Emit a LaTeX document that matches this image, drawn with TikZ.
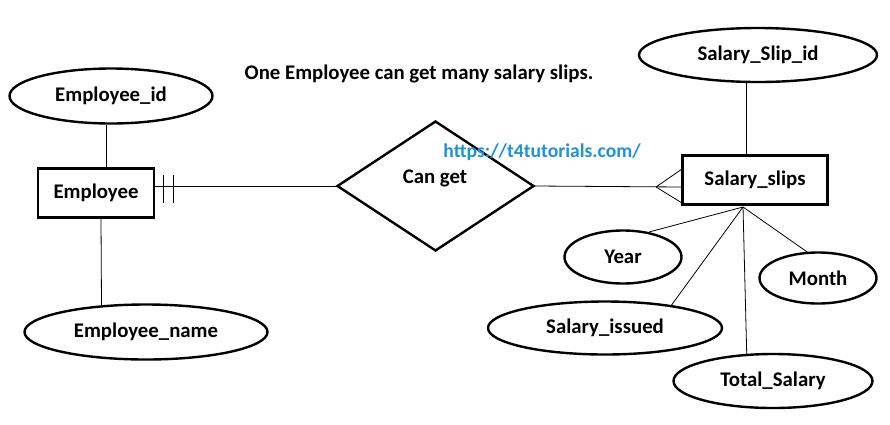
\documentclass[tikz,border=0pt]{standalone}
\usepackage{fontspec}
\setmainfont{Carlito}
\usetikzlibrary{shapes.geometric}
\definecolor{urlblue}{RGB}{32,146,214}
\begin{document}
\begin{tikzpicture}[x=1pt,y=-1pt,
  txt/.style={font=\bfseries\fontsize{20.8}{25}\selectfont},
  attr/.style={ellipse,draw,line width=2.4pt,inner sep=0pt,txt},
  ent/.style={rectangle,draw,line width=2.6pt,inner sep=0pt,txt},
  rel/.style={diamond,draw,line width=2.4pt,inner sep=0pt},
  conn/.style={line width=0.8pt}]
\useasboundingbox[fill=white] (0,0) rectangle (890,424);

% title
\node[txt,anchor=base] (title) at (419,79) {One Employee can get many salary slips.};

% entities
\node[ent,minimum width=116pt,minimum height=49pt] (emp) at (96,193) {Employee};
\node[ent,minimum width=145pt,minimum height=49pt] (slips) at (755,180) {Salary\_slips};

% relationship
\node[rel,minimum width=197pt,minimum height=130pt] (rel) at (435.5,186) {};
\node[txt] (cantext) at (435,178) {Can get};

% attributes
\node[attr,minimum width=203pt,minimum height=55pt] (eid) at (111,96) {Employee\_id};
\node[attr,minimum width=243pt,minimum height=55pt] (ename) at (146,332) {Employee\_name};
\node[attr,minimum width=238pt,minimum height=54pt] (sid) at (758,55) {Salary\_Slip\_id};
\node[attr,minimum width=117pt,minimum height=53pt] (year) at (623,257) {Year};
\node[attr,minimum width=117pt,minimum height=51pt] (month) at (818,278) {Month};
\node[attr,minimum width=234pt,minimum height=53pt] (issued) at (605,328) {Salary\_issued};
\node[attr,minimum width=199pt,minimum height=54pt] (total) at (773,381) {Total\_Salary};

\node[font=\bfseries\fontsize{19.6}{24}\selectfont,text=urlblue,anchor=base] (url) at (542,157) {https://t4tutorials.com/};

% connectors: Employee side
\draw[conn] (eid.260) -- (eid.260 |- emp.north);
\draw[conn] ([xshift=5pt]emp.south) -- (ename.149);
\draw[conn] (emp.east |- rel.west) -- (rel.west);
\coordinate (t1a) at (163,175); \coordinate (t1b) at (163,203);
\coordinate (t2a) at (173,175); \coordinate (t2b) at (173,203);
\draw[conn] (t1a) -- (t1b);
\draw[conn] (t2a) -- (t2b);

% connectors: Salary_slips side
\coordinate (cf) at (656,187);
\coordinate (cfA) at (682,169);
\coordinate (cfB) at (682,187);
\coordinate (cfC) at (682,203);
\draw[conn] (rel.east) -- (cfB);
\draw[conn] (cf) -- (cfA);
\draw[conn] (cf) -- (cfC);
\draw[conn] (sid.248) -- (sid.248 |- slips.north);

\coordinate (hub) at (743,207);
\draw[conn] (hub) -- (year.44);
\draw[conn] (hub) -- (month.113);
\draw[conn] (hub) -- (issued.19);
\draw[conn] (hub) -- (total.134);
\end{tikzpicture}
\end{document}
